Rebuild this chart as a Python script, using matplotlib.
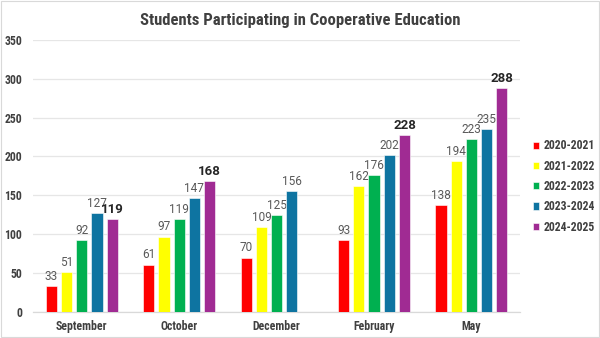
import matplotlib
matplotlib.use("Agg")
import matplotlib.pyplot as plt
from matplotlib import font_manager
import numpy as np

months = ["September", "October", "December", "February", "May"]
seasons = ["2020-2021", "2021-2022", "2022-2023", "2023-2024", "2024-2025"]
s2020 = [33, 61, 70, 93, 138]
s2021 = [51, 97, 109, 162, 194]
s2022 = [92, 119, 125, 176, 223]
s2023 = [127, 147, 156, 202, 235]
s2024 = [119, 168, None, 228, 288]
series = [s2020, s2021, s2022, s2023, s2024]
colors = ["#FF0000", "#FFFF00", "#00B050", "#0E74A1", "#A02B93"]
yticks = [0, 50, 100, 150, 200, 250, 300, 350]

installed = {f.name for f in font_manager.fontManager.ttflist}


def pick(*names):
    for n in names:
        if n in installed:
            return n
    return "DejaVu Sans"


narrow = pick("Aptos Narrow", "Arial Narrow", "Liberation Sans Narrow", "Roboto Condensed",
              "IBM Plex Sans Condensed", "Open Sans Condensed", "DejaVu Sans")
regular = pick("Aptos", "Roboto", "Liberation Sans", "DejaVu Sans")

fig = plt.figure(figsize=(6.0, 3.38), dpi=100)
fig.patch.set_facecolor("white")
fig.patches.append(plt.Rectangle((0.001, 0.002), 0.997, 0.995, transform=fig.transFigure,
                                 fill=False, edgecolor="#D9D9D9", linewidth=0.8))
ax = fig.add_axes([0.055, 0.077, 0.812, 0.805])

x = np.arange(len(months))
slot = 0.156
width = 0.115
for j, (vals, col, name) in enumerate(zip(series, colors, seasons)):
    xs = [xi + (j - 2) * slot for xi, v in zip(x, vals) if v is not None]
    vs = [v for v in vals if v is not None]
    ax.bar(xs, vs, width=width, color=col, edgecolor="white", linewidth=0.4,
           label=name, zorder=3)
    for xb, v in zip(xs, vs):
        if j == 4:
            ax.text(xb, v + 4, str(v), ha="center", va="bottom", fontsize=9.5,
                    fontweight="bold", color="#262626", family=regular)
        else:
            ax.text(xb, v + 4, str(v), ha="center", va="bottom", fontsize=8.5,
                    color="#595959", family=regular)

ax.set_xlim(-0.5, len(months) - 0.5)
ax.set_ylim(0, 350)
ax.set_yticks(yticks)
ax.set_xticks(x)
ax.set_xticklabels(months, fontsize=8.5, fontweight="bold", color="#404040", family=narrow)
ax.set_yticklabels([str(t) for t in yticks], fontsize=8.5, fontweight="bold",
                   color="#404040", family=narrow)
ax.tick_params(axis="both", length=0)
ax.tick_params(axis="x", pad=6)
ax.tick_params(axis="y", pad=8)
ax.grid(axis="y", color="#E6E6E6", linewidth=0.9, zorder=0)
for s in ["top", "right", "left"]:
    ax.spines[s].set_visible(False)
ax.spines["bottom"].set_color("#D9D9D9")
ax.spines["bottom"].set_linewidth(0.9)

fig.text(0.5, 0.94, "Students Participating in Cooperative Education", ha="center",
         va="center", fontsize=12, fontweight="bold", color="#404040", family=narrow)

leg = fig.legend(loc="upper left", bbox_to_anchor=(0.888, 0.588), frameon=False,
                 borderpad=0, borderaxespad=0,
                 handlelength=0.55, handleheight=0.55, handletextpad=0.35, labelspacing=0.62,
                 prop={"family": narrow, "weight": "bold", "size": 8.5})
for t in leg.get_texts():
    t.set_color("#404040")

fig.savefig("out.png", dpi=100, facecolor="white")
